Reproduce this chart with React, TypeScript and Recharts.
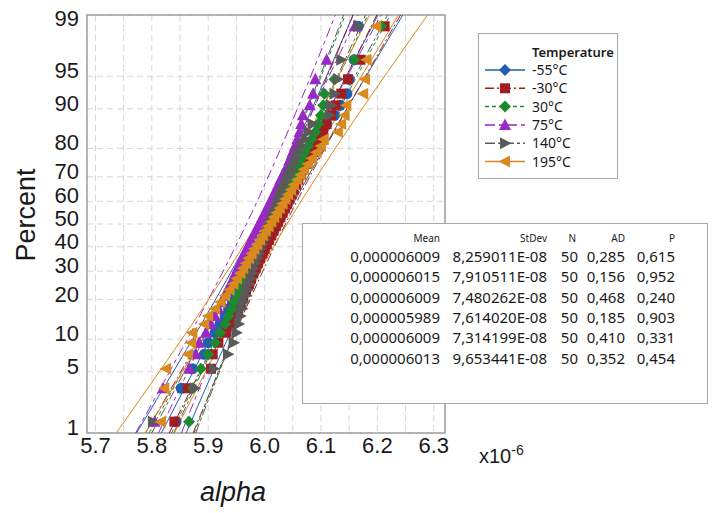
import { ScatterChart, Scatter, XAxis, YAxis, CartesianGrid, ReferenceArea } from 'recharts'

// alpha values (x10^-6), sorted, 50 per temperature
const alphaM55 = [5.843, 5.852, 5.872, 5.893, 5.900, 5.912, 5.921, 5.930, 5.936, 5.943, 5.949, 5.955, 5.960, 5.964, 5.968, 5.972, 5.976, 5.980, 5.984, 5.988, 5.992, 5.996, 6.000, 6.004, 6.008, 6.011, 6.015, 6.019, 6.023, 6.027, 6.031, 6.035, 6.039, 6.043, 6.048, 6.053, 6.058, 6.063, 6.069, 6.075, 6.082, 6.090, 6.098, 6.110, 6.124, 6.134, 6.146, 6.150, 6.159, 6.166]
const alphaM30 = [5.840, 5.864, 5.905, 5.908, 5.918, 5.932, 5.940, 5.946, 5.952, 5.957, 5.962, 5.967, 5.972, 5.976, 5.980, 5.984, 5.988, 5.992, 5.996, 6.000, 6.004, 6.008, 6.012, 6.016, 6.020, 6.024, 6.028, 6.032, 6.036, 6.040, 6.044, 6.048, 6.052, 6.056, 6.060, 6.065, 6.070, 6.075, 6.080, 6.086, 6.092, 6.098, 6.104, 6.110, 6.118, 6.126, 6.136, 6.148, 6.170, 6.213]
const alpha30 = [5.866, 5.873, 5.887, 5.900, 5.912, 5.921, 5.930, 5.936, 5.942, 5.947, 5.952, 5.957, 5.961, 5.965, 5.969, 5.973, 5.977, 5.981, 5.985, 5.989, 5.993, 5.997, 6.001, 6.005, 6.009, 6.012, 6.016, 6.020, 6.024, 6.028, 6.032, 6.036, 6.040, 6.044, 6.048, 6.052, 6.056, 6.061, 6.066, 6.071, 6.077, 6.083, 6.090, 6.095, 6.100, 6.104, 6.106, 6.124, 6.159, 6.207]
const alpha75 = [5.805, 5.820, 5.866, 5.878, 5.884, 5.896, 5.905, 5.912, 5.918, 5.924, 5.929, 5.934, 5.939, 5.944, 5.948, 5.952, 5.956, 5.960, 5.964, 5.968, 5.972, 5.976, 5.980, 5.984, 5.988, 5.992, 5.996, 6.000, 6.004, 6.008, 6.012, 6.016, 6.020, 6.024, 6.028, 6.033, 6.038, 6.042, 6.046, 6.050, 6.054, 6.058, 6.062, 6.065, 6.068, 6.080, 6.086, 6.090, 6.110, 6.160]
const alpha140 = [5.802, 5.876, 5.910, 5.935, 5.945, 5.950, 5.954, 5.957, 5.960, 5.963, 5.966, 5.969, 5.972, 5.975, 5.978, 5.981, 5.984, 5.987, 5.990, 5.993, 5.996, 5.999, 6.002, 6.005, 6.008, 6.011, 6.014, 6.017, 6.020, 6.023, 6.026, 6.029, 6.032, 6.036, 6.040, 6.044, 6.048, 6.052, 6.056, 6.060, 6.066, 6.072, 6.078, 6.085, 6.115, 6.118, 6.124, 6.130, 6.136, 6.166]
const alpha195 = [5.816, 5.822, 5.825, 5.864, 5.870, 5.872, 5.893, 5.900, 5.912, 5.922, 5.930, 5.938, 5.945, 5.951, 5.957, 5.962, 5.967, 5.972, 5.977, 5.982, 5.987, 5.992, 5.997, 6.002, 6.007, 6.012, 6.017, 6.022, 6.027, 6.032, 6.037, 6.042, 6.047, 6.052, 6.058, 6.064, 6.070, 6.077, 6.084, 6.092, 6.100, 6.105, 6.130, 6.136, 6.142, 6.145, 6.175, 6.178, 6.181, 6.198]

const temperatures = ['-55°C', '-30°C', '30°C', '75°C', '140°C', '195°C']
const seriesValues = [alphaM55, alphaM30, alpha30, alpha75, alpha140, alpha195]

// summary table
const meanValues = [6.009, 6.015, 6.009, 5.989, 6.009, 6.013]
const stdevValues = [0.08259011, 0.07910511, 0.07480262, 0.07614020, 0.07314199, 0.09653441]
const meanText = ['0,000006009', '0,000006015', '0,000006009', '0,000005989', '0,000006009', '0,000006013']
const stdevText = ['8,259011E-08', '7,910511E-08', '7,480262E-08', '7,614020E-08', '7,314199E-08', '9,653441E-08']
const nText = ['50', '50', '50', '50', '50', '50']
const adText = ['0,285', '0,156', '0,468', '0,185', '0,410', '0,352']
const pText = ['0,615', '0,952', '0,240', '0,903', '0,331', '0,454']

const percentTicks = [1, 5, 10, 20, 30, 40, 50, 60, 70, 80, 90, 95, 99]
const xTicks = [5.7, 5.75, 5.8, 5.85, 5.9, 5.95, 6.0, 6.05, 6.1, 6.15, 6.2, 6.25, 6.3]

const colors = ['#1f5fae', '#a11d21', '#1b8a2f', '#9a27c8', '#5a5a5a', '#d88a1c']
const dashes = ['', '9 3 2 3', '4 3', '10 4 4 4', '10 3 3 3', '']
const shapes = ['circle', 'square', 'diamond', 'triangle', 'right', 'left']

// inverse normal CDF (Acklam)
function probit(p: number): number {
  const a = [-39.69683028665376, 220.9460984245205, -275.9285104469687, 138.357751867269, -30.66479806614716, 2.506628277459239]
  const b = [-54.47609879822406, 161.5858368580409, -155.6989798598866, 66.80131188771972, -13.28068155288572]
  const c = [-0.007784894002430293, -0.3223964580411365, -2.400758277161838, -2.549671010229528, 4.374664141464968, 2.938163982698783]
  const d = [0.007784695709041462, 0.3224671290700398, 2.445134137142996, 3.754408661907416]
  const tail = (q: number) =>
    (((((c[0] * q + c[1]) * q + c[2]) * q + c[3]) * q + c[4]) * q + c[5]) /
    ((((d[0] * q + d[1]) * q + d[2]) * q + d[3]) * q + 1)
  if (p < 0.02425) return tail(Math.sqrt(-2 * Math.log(p)))
  if (p > 1 - 0.02425) return -tail(Math.sqrt(-2 * Math.log(1 - p)))
  const q = p - 0.5
  const r = q * q
  return ((((((a[0] * r + a[1]) * r + a[2]) * r + a[3]) * r + a[4]) * r + a[5]) * q) /
    (((((b[0] * r + b[1]) * r + b[2]) * r + b[3]) * r + b[4]) * r + 1)
}

const zMin = probit(0.01)
const zMax = probit(0.99)

// points at median-rank plotting positions
const pointData = seriesValues.map((vals) =>
  vals.map((v, i) => ({ x: v, z: probit((i + 0.7) / (vals.length + 0.4)) }))
)

// fitted line and 95% CI from the table's mean / stdev
const zGrid: number[] = []
for (let k = 0; k <= 30; k++) zGrid.push(zMin + ((zMax - zMin) * k) / 30)

const fitData = meanValues.map((m, i) => {
  const s = stdevValues[i]
  const n = 50
  const half = (z: number) => 1.96 * s * Math.sqrt(1 / n + (z * z) / (2 * n))
  return {
    fit: [{ x: m + s * zMin, z: zMin }, { x: m + s * zMax, z: zMax }],
    lower: zGrid.map((z) => ({ x: m + s * z - half(z), z })),
    upper: zGrid.map((z) => ({ x: m + s * z + half(z), z })),
  }
})

function drawMarker(kind: string, color: string, cx: number, cy: number) {
  if (kind === 'circle') return <circle cx={cx} cy={cy} r={5.5} fill={color} />
  if (kind === 'square') return <rect x={cx - 5} y={cy - 5} width={10} height={10} fill={color} />
  if (kind === 'diamond')
    return <polygon points={`${cx},${cy - 6} ${cx + 6},${cy} ${cx},${cy + 6} ${cx - 6},${cy}`} fill={color} />
  if (kind === 'triangle')
    return <polygon points={`${cx},${cy - 6.5} ${cx + 6},${cy + 5} ${cx - 6},${cy + 5}`} fill={color} />
  if (kind === 'right')
    return <polygon points={`${cx - 5},${cy - 6} ${cx + 6.5},${cy} ${cx - 5},${cy + 6}`} fill={color} />
  return <polygon points={`${cx + 5},${cy - 6} ${cx - 6.5},${cy} ${cx + 5},${cy + 6}`} fill={color} />
}

const noShape = () => <g />

const XTick = (props: any) => {
  const { x, y, payload } = props
  const v = payload.value
  if (Math.abs(v * 10 - Math.round(v * 10)) > 1e-6) return null
  return (
    <text x={x} y={y} dy={12} textAnchor="middle" fontSize={22} fill="#1a1a1a" fontFamily="'Liberation Sans', Arial, sans-serif">
      {v.toFixed(1)}
    </text>
  )
}

const YTick = (props: any) => {
  const { x, y, payload } = props
  const idx = percentTicks.findIndex((p) => Math.abs(probit(p / 100) - payload.value) < 1e-6)
  const label = idx >= 0 ? percentTicks[idx] : ''
  return (
    <text x={x} y={y} dy={label === 99 ? 11 : 2} textAnchor="end" fontSize={22} fill="#1a1a1a" fontFamily="'Liberation Sans', Arial, sans-serif">
      {label}
    </text>
  )
}

export default function App() {
  const font = "'Noto Sans', 'Open Sans', sans-serif"
  return (
    <div style={{ position: 'absolute', left: 0, top: 0, width: 712, height: 513, background: '#fff' }}>
      <ScatterChart width={712} height={513} margin={{ top: 15, right: 267, bottom: 0, left: 0 }}>
        <CartesianGrid stroke="#d6d6d6" strokeDasharray="6 4" />
        <XAxis
          type="number"
          dataKey="x"
          domain={[5.685, 6.32]}
          ticks={xTicks}
          interval={0}
          allowDataOverflow
          height={80}
          axisLine={false}
          tickLine={false}
          tick={<XTick />}
        />
        <YAxis
          type="number"
          dataKey="z"
          domain={[zMin, zMax]}
          ticks={percentTicks.map((p) => probit(p / 100))}
          interval={0}
          allowDataOverflow
          width={87}
          axisLine={false}
          tickLine={false}
          tick={<YTick />}
        />
        {fitData.map((f, i) =>
          (['lower', 'fit', 'upper'] as const).map((k) => (
            <Scatter
              key={`${i}-${k}`}
              data={f[k]}
              shape={noShape}
              line={{ stroke: colors[i], strokeWidth: 1, strokeDasharray: dashes[i] }}
              isAnimationActive={false}
            />
          ))
        )}
        {pointData.map((d, i) => (
          <Scatter
            key={`pts-${i}`}
            data={d}
            shape={(p: any) => drawMarker(shapes[i], colors[i], p.cx, p.cy)}
            isAnimationActive={false}
          />
        ))}
        <ReferenceArea x1={5.685} x2={6.32} y1={zMin} y2={zMax} fill="none" stroke="#a0a0a0" strokeWidth={1.5} ifOverflow="extendDomain" />
      </ScatterChart>

      <svg width={712} height={513} style={{ position: 'absolute', left: 0, top: 0, pointerEvents: 'none' }}>
        <text x={26} y={215} transform="rotate(-90 26 215)" dy={9} textAnchor="middle" fontSize={27} fill="#1a1a1a" fontFamily="'Liberation Sans', Arial, sans-serif">
          Percent
        </text>
        <text x={233} y={501} textAnchor="middle" fontSize={27} fontStyle="italic" fill="#1a1a1a" fontFamily="'Liberation Sans', Arial, sans-serif">
          alpha
        </text>
        <text x={479} y={463} fontSize={20} fill="#1a1a1a" fontFamily="'Liberation Sans', Arial, sans-serif">
          x10<tspan dy={-8} fontSize={14}>-6</tspan>
        </text>
      </svg>

      <svg width={140} height={146} style={{ position: 'absolute', left: 478, top: 33 }}>
        <rect x={0.5} y={0.5} width={139} height={145} fill="#fff" stroke="#a8a8a8" />
        <text x={54} y={24} fontSize={13} fontWeight={600} fill="#1a1a1a" fontFamily={font}>Temperature</text>
        {temperatures.map((t, i) => {
          const cy = 37 + i * 18.3
          return (
            <g key={t}>
              <line x1={7} x2={47} y1={cy} y2={cy} stroke={colors[i]} strokeWidth={1.5} strokeDasharray={dashes[i]} />
              {drawMarker(i === 0 ? 'diamond' : shapes[i], colors[i], 27, cy)}
              <text x={54} y={cy + 5} fontSize={14} fill="#1a1a1a" fontFamily={font}>{t}</text>
            </g>
          )
        })}
      </svg>

      <svg width={406} height={181} style={{ position: 'absolute', left: 302, top: 223 }}>
        <rect x={0.5} y={0.5} width={405} height={180} fill="#fff" stroke="#a8a8a8" />
        {[['Mean', 138], ['StDev', 245], ['N', 274], ['AD', 323], ['P', 373]].map(([h, x]) => (
          <text key={h as string} x={x as number} y={19} textAnchor="end" fontSize={10} fill="#1a1a1a" fontFamily={font}>{h}</text>
        ))}
        {meanText.map((m, i) => {
          const y = 39 + i * 20.3
          return (
            <g key={i} fontSize={15} fill="#1a1a1a" fontFamily={font} textAnchor="end">
              <text x={138} y={y}>{m}</text>
              <text x={245} y={y}>{stdevText[i]}</text>
              <text x={276} y={y}>{nText[i]}</text>
              <text x={323} y={y}>{adText[i]}</text>
              <text x={373} y={y}>{pText[i]}</text>
            </g>
          )
        })}
      </svg>
    </div>
  )
}
